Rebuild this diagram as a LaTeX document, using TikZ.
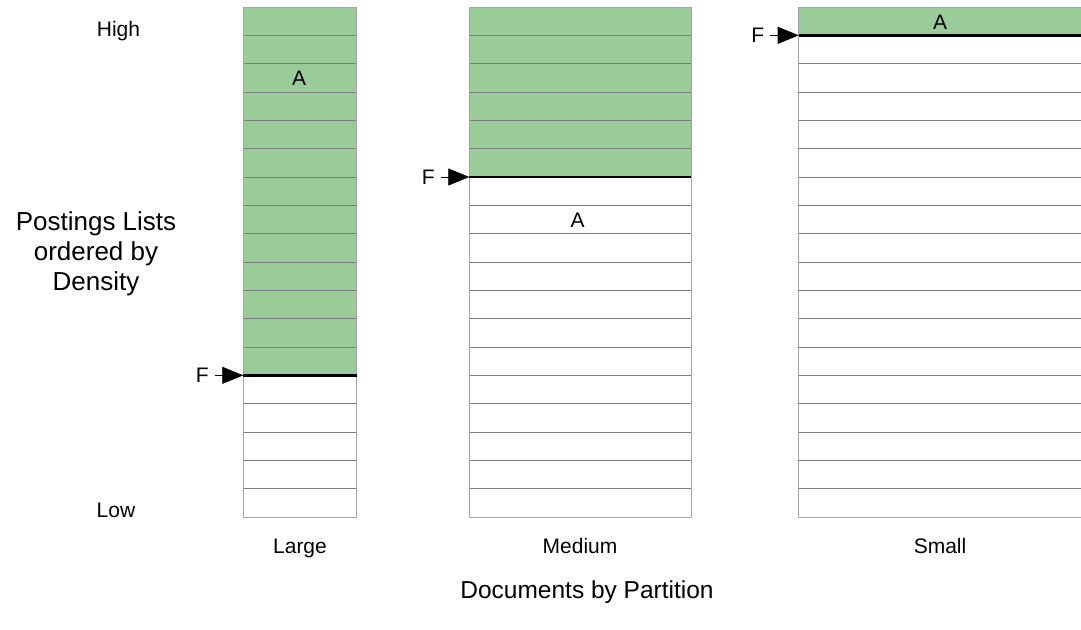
\documentclass[tikz,border=0pt]{standalone}
\usepackage{fontspec}
\setmainfont{Liberation Sans}
\usetikzlibrary{arrows.meta}
\definecolor{cellgreen}{RGB}{153,204,153}
\definecolor{rowline}{RGB}{125,125,125}
\definecolor{edgeline}{RGB}{165,165,165}
\begin{document}
\begin{tikzpicture}[x=1pt,y=-1pt,
  small/.style={font=\fontsize{21}{25}\selectfont, inner sep=0pt},
  big/.style={font=\fontsize{26}{30}\selectfont, align=center, inner sep=0pt},
  rowsep/.style={draw=rowline, line width=0.9pt},
  frame/.style={draw=edgeline, line width=0.9pt},
  fline/.style={draw=black, line width=2.4pt},
  farrow/.style={-{Triangle[length=21pt,width=17pt]}, line width=0.8pt, shorten <=6pt}]
\useasboundingbox (0,0) rectangle (1081,629);
\clip (0,0) rectangle (1081,629);
\fill[white] (0,0) rectangle (1081,629);
% columns
\foreach \l/\r/\g/\n in {243.3/356.7/13/large, 469.3/691/6/medium, 798.7/1095/1/small}{
  \fill[cellgreen] (\l,7) rectangle (\r,{7+\g*28.333});
  \foreach \i in {1,...,17}{
    \draw[rowsep] (\l,{7+\i*28.333}) -- (\r,{7+\i*28.333});
  }
  \draw[frame] (\l,7) rectangle (\r,517);
  \draw[fline] (\l,{7+\g*28.333}) -- (\r,{7+\g*28.333});
  \coordinate (\n-f) at (\l,{7+\g*28.333});
}
% A labels
\node[small] (a1) at (299,78.5) {A};
\node[small] (a2) at (577.5,220) {A};
\node[small] (a3) at (940,22) {A};
% F markers
\node[small] (f1) at ([xshift=-41pt]large-f) {F};
\node[small] (f2) at ([xshift=-41pt]medium-f) {F};
\node[small] (f3) at ([xshift=-41pt]small-f) {F};
\draw[farrow] (f1) -- (large-f);
\draw[farrow] (f2) -- (medium-f);
\draw[farrow] (f3) -- (small-f);
% side labels
\node[small, anchor=base] (high) at (118.5,36.5) {High};
\node[small, anchor=base] (low) at (116,517) {Low};
\node[big] (post) at (96,254) {Postings Lists\\ordered by\\Density};
% column labels
\node[small, anchor=base] (lbl1) at (300,553) {Large};
\node[small, anchor=base] (lbl2) at (580,553) {Medium};
\node[small, anchor=base] (lbl3) at (940,553) {Small};
\node[big, font=\fontsize{24.5}{28}\selectfont] (docs) at (587,592) {Documents by Partition};
\end{tikzpicture}
\end{document}
